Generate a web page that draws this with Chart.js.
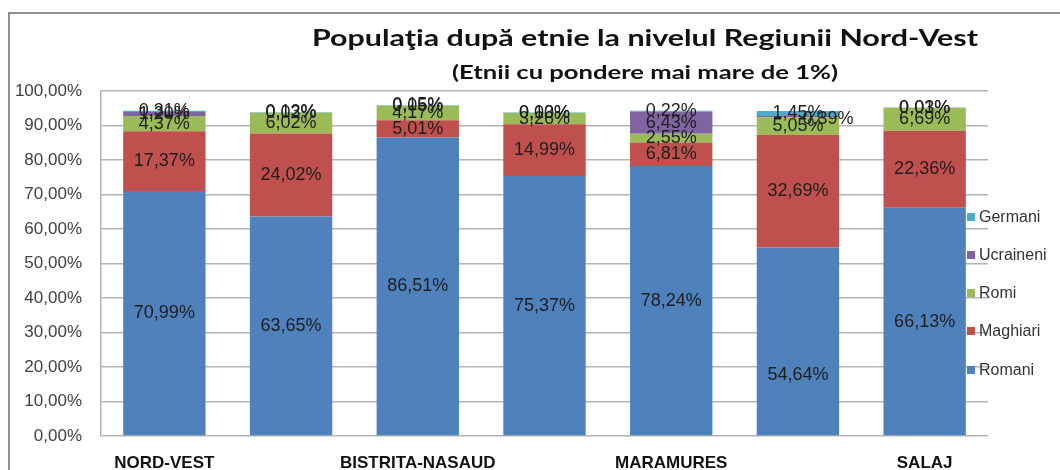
<!DOCTYPE html>
<html>
<head>
<meta charset="utf-8">
<script src="https://cdn.jsdelivr.net/npm/chart.js@4/dist/chart.umd.min.js"></script>
<style>
html,body{margin:0;padding:0;background:#fff;}
#wrap{position:relative;width:1060px;height:470px;}
</style>
</head>
<body>
<div id="wrap"><canvas id="c" width="1060" height="470"></canvas></div>
<script>
const categories = ['NORD-VEST','BIHOR','BISTRITA-NASAUD','CLUJ','MARAMURES','SATU MARE','SALAJ'];
const romani    = [70.99, 63.65, 86.51, 75.37, 78.24, 54.64, 66.13];
const maghiari  = [17.37, 24.02,  5.01, 14.99,  6.81, 32.69, 22.36];
const romi      = [ 4.37,  6.02,  4.17,  3.26,  2.55,  5.05,  6.69];
const ucraineni = [ 1.20,  0.02,  0.05,  0.03,  6.43,  0.39,  0.01];
const germani   = [ 0.31,  0.13,  0.15,  0.10,  0.22,  1.45,  0.03];
const yTicks = [0,10,20,30,40,50,60,70,80,90,100];
const titleText = 'Populaţia după etnie la nivelul Regiunii Nord-Vest';
const subtitleText = '(Etnii cu pondere mai mare de 1%)';

const fmt = v => v.toFixed(2).replace('.', ',') + '%';
const FONT = '"Liberation Sans", Arial, sans-serif';

// manual label nudges (dataset index, category index) -> [dx, dy]
const labelNudge = { '0-5': [0, 34], '3-5': [30, 2] };

function stretchedText(ctx, text, font, cx, baseY, targetW) {
  ctx.save();
  ctx.font = font;
  const w = ctx.measureText(text).width;
  const sx = targetW / w;
  ctx.translate(cx, baseY);
  ctx.scale(sx, 1);
  ctx.textAlign = 'center';
  ctx.textBaseline = 'alphabetic';
  ctx.fillText(text, 0, 0);
  ctx.restore();
}

const framePlugin = {
  id: 'frame',
  beforeDraw(chart) {
    const ctx = chart.ctx;
    ctx.save();
    ctx.strokeStyle = '#8e8e8e';
    ctx.lineWidth = 2;
    ctx.beginPath();
    ctx.moveTo(9, 470);
    ctx.lineTo(9, 13);
    ctx.lineTo(1060, 13);
    ctx.stroke();
    ctx.restore();
  },
  afterDraw(chart) {
    const ctx = chart.ctx;
    ctx.save();
    ctx.fillStyle = '#111';
    stretchedText(ctx, titleText, 'bold 23px Lato, sans-serif', 645, 46, 666);
    stretchedText(ctx, subtitleText, 'bold 19px Lato, sans-serif', 645, 79, 386);
    // legend
    const items = [4,3,2,1,0];
    const ys = [217, 255, 293, 331, 370];
    ctx.font = '16px ' + FONT;
    ctx.textAlign = 'left';
    ctx.textBaseline = 'middle';
    items.forEach((di, k) => {
      const ds = chart.data.datasets[di];
      ctx.fillStyle = ds.backgroundColor;
      ctx.fillRect(967, ys[k] - 4, 8, 8);
      ctx.fillStyle = '#333';
      ctx.fillText(ds.label, 979, ys[k] + 1);
    });
    ctx.restore();
  }
};

const labelPlugin = {
  id: 'barLabels',
  afterDatasetsDraw(chart) {
    const ctx = chart.ctx;
    ctx.save();
    ctx.font = '18px ' + FONT;
    ctx.fillStyle = '#1e1e1e';
    ctx.textAlign = 'center';
    ctx.textBaseline = 'middle';
    chart.data.datasets.forEach((ds, di) => {
      const meta = chart.getDatasetMeta(di);
      meta.data.forEach((el, i) => {
        const n = labelNudge[di + '-' + i] || [0, 0];
        const y = (el.y + el.base) / 2;
        ctx.fillText(fmt(ds.data[i]), el.x + n[0], y + n[1]);
      });
    });
    ctx.restore();
  }
};

const mk = (label, data, color) => ({
  label, data, backgroundColor: color, borderWidth: 0,
  categoryPercentage: 1, barPercentage: 0.65
});

new Chart(document.getElementById('c'), {
  type: 'bar',
  data: {
    labels: categories,
    datasets: [
      mk('Romani', romani, '#4F81BD'),
      mk('Maghiari', maghiari, '#C0504D'),
      mk('Romi', romi, '#9BBB59'),
      mk('Ucraineni', ucraineni, '#8064A2'),
      mk('Germani', germani, '#4BACC6')
    ]
  },
  options: {
    responsive: false,
    animation: false,
    layout: { padding: { top: 91, right: 72, bottom: 0, left: 0 } },
    plugins: { legend: { display: false }, tooltip: { enabled: false }, title: { display: false } },
    scales: {
      x: {
        stacked: true,
        grid: { display: false, drawTicks: false },
        border: { display: false },
        ticks: {
          autoSkip: false, maxRotation: 0, padding: 17,
          color: '#111', font: { family: FONT, size: 17, weight: 'bold' },
          callback: function (v, i) { return i % 2 === 0 ? categories[i] : ''; }
        },
        afterFit: s => { s.height = 34; }
      },
      y: {
        stacked: true, min: 0, max: 100,
        afterBuildTicks: s => { s.ticks = yTicks.map(v => ({ value: v })); },
        grid: { color: '#b4b4b4', lineWidth: 1.5, drawTicks: false },
        border: { display: true, color: '#b4b4b4', width: 1.5 },
        ticks: {
          padding: 19, color: '#404040', font: { family: FONT, size: 17 },
          callback: v => fmt(v)
        },
        afterFit: s => { s.width = 101; }
      }
    }
  },
  plugins: [framePlugin, labelPlugin]
});
</script>
</body>
</html>
